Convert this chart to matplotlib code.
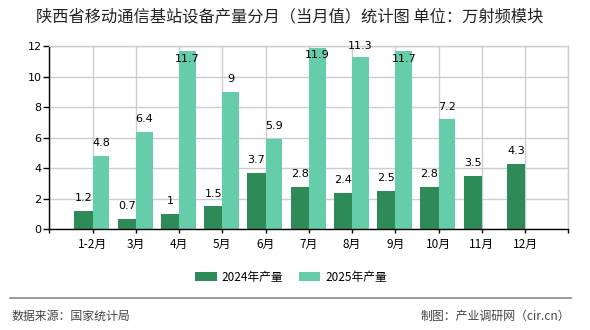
import matplotlib
matplotlib.use("Agg")
import matplotlib.pyplot as plt
import numpy as np

plt.rcParams['font.family'] = ['Noto Sans CJK SC', 'DejaVu Sans']

months = ["1-2月", "3月", "4月", "5月", "6月", "7月", "8月", "9月", "10月", "11月", "12月"]
prod_2024 = [1.2, 0.7, 1, 1.5, 3.7, 2.8, 2.4, 2.5, 2.8, 3.5, 4.3]
prod_2025 = [4.8, 6.4, 11.7, 9, 5.9, 11.9, 11.3, 11.7, 7.2, None, None]
yticks = [0, 2, 4, 6, 8, 10, 12]

c24 = "#2e8b57"
c25 = "#66cdaa"


def label_y(v, top):
    # value label sits above the bar, unless it runs past the top
    y = v + 0.83
    if y > top + 0.3:
        return v - 0.52
    return min(y, top)


fig = plt.figure(figsize=(5.9, 3.3), dpi=100)
ax = fig.add_axes([49.3 / 590, 1 - 229.3 / 330, 519 / 590, 183.3 / 330])

x = np.arange(1, len(months) + 1)
b24 = ax.bar(x - 0.21, prod_2024, width=0.42, color=c24, label="2024年产量", zorder=2)
x25 = [xi for xi, v in zip(x, prod_2025) if v is not None]
v25 = [v for v in prod_2025 if v is not None]
b25 = ax.bar(np.array(x25) + 0.195, v25, width=0.39, color=c25, label="2025年产量", zorder=2)

for xi, v in zip(x, prod_2024):
    ax.text(xi - 0.21, label_y(v, 12), f"{v:g}", ha="center", va="center",
            fontsize=8, color="black", family="DejaVu Sans", zorder=3)
for xi, v in zip(x25, v25):
    ax.text(xi + 0.195, label_y(v, 12), f"{v:g}", ha="center", va="center",
            fontsize=8, color="black", family="DejaVu Sans", zorder=3)

ax.set_xlim(0, 12)
ax.set_ylim(0, 12)
ax.set_xticks(range(0, len(months) + 2))
ax.set_xticklabels([""] + months + [""], fontsize=8.5)
ax.tick_params(axis="x", length=3, width=1, color="black", pad=3)
ax.set_yticks(yticks)
ax.set_yticklabels([str(t) for t in yticks], fontsize=8, family="DejaVu Sans")
ax.tick_params(axis="y", length=4, width=1, color="black", pad=1.5)

ax.grid(True, color="#cccccc", linewidth=1, zorder=0)
ax.set_axisbelow(True)
for s in ["top", "right"]:
    ax.spines[s].set_color("#cccccc")
    ax.spines[s].set_linewidth(1)
ax.spines["left"].set_linewidth(1)
ax.spines["bottom"].set_linewidth(1)

fig.text(36 / 590, 1 - 17 / 330, "陕西省移动通信基站设备产量分月（当月值）统计图 单位：万射频模块",
         fontsize=11.7, color="#222222", ha="left", va="center")

fig.legend(handles=[b24, b25], loc="center", bbox_to_anchor=(291 / 590, 1 - 277 / 330),
           ncol=2, frameon=False, fontsize=8.5, handlelength=1.85, handleheight=0.75,
           handletextpad=0.4, columnspacing=1.3)

fig.add_artist(plt.Line2D([10 / 590, 571 / 590], [1 - 298.3 / 330] * 2,
                          transform=fig.transFigure, color="#888888", linewidth=1.2))
fig.text(11.7 / 590, 1 - 316 / 330, "数据来源：国家统计局", fontsize=8.6,
         color="#444444", ha="left", va="center")
fig.text(570 / 590, 1 - 316 / 330, "制图：产业调研网（cir.cn）", fontsize=8.6,
         color="#444444", ha="right", va="center")

fig.savefig("out.png", dpi=100)
